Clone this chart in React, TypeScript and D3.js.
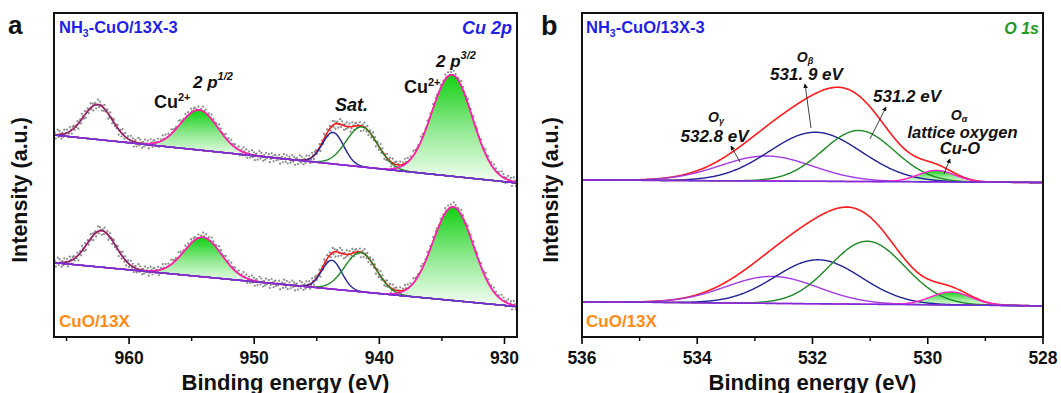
import React from "react";
import * as d3 from "d3";

const W = 1061;
const H = 393;

// ---------- Cu 2p (panel a) ----------
const cuDomain = [966, 929];
const cuMajorTicks = [960, 950, 940, 930];
const cuMinorTicks = [965, 955, 945, 935];
const cuPeakNames = ["Cu2+ shake-up 962", "Cu2+ 2p1/2", "Sat. A", "Sat. B", "Cu2+ 2p3/2"];
// NH3-CuO/13X-3
const cuTopCenters = [962.5, 954.4, 943.7, 941.4, 934.2];
const cuTopHeights = [35, 40, 31.5, 40, 101.5];
const cuTopSigmas = [1.15, 1.5, 0.85, 1.25, 1.62];
const cuTopBackground = [202, 154]; // at 966 eV and 929 eV
// CuO/13X
const cuBotCenters = [962.2, 954.1, 943.8, 941.5, 934.1];
const cuBotHeights = [36.6, 39.5, 28.7, 39.3, 93.6];
const cuBotSigmas = [1.15, 1.5, 0.8, 1.25, 1.62];
const cuBotBackground = [74.3, 30.4];

// ---------- O 1s (panel b) ----------
const oDomain = [536, 528];
const oMajorTicks = [536, 534, 532, 530, 528];
const oMinorTicks = [535, 533, 531, 529];
const oPeakNames = ["Oγ", "Oβ", "531.2", "Oα"];
const oTopCenters = [532.8, 531.95, 531.2, 529.85];
const oTopHeights = [25, 49, 51, 11.5];
const oTopSigmas = [0.8, 0.8, 0.62, 0.32];
const oTopBackground = [157, 154.5];
const oBotCenters = [532.7, 531.9, 531.05, 529.6];
const oBotHeights = [27, 44, 63, 13];
const oBotSigmas = [0.8, 0.75, 0.65, 0.35];
const oBotBackground = [35.3, 31.2];

// scatter of the raw data points around the fitted envelope (a.u.)
const dataNoise = [2.5, -3.6, 1.0, 4.3, -1.7, -4.8, 3.1, 0.4, -1.3, 4.1, -2.9, 1.5, -4.2, 0.7, 3.5, -2.4, 5.0, -0.6, -3.9, 2.1, 1.3, -4.9, 2.8, -2.0, 4.6, -0.8, -3.2, 2.7, 0.1, -4.3, 3.8, -2.7, 1.1, 4.8, -3.5, 1.8, -0.3, -5.2, 3.4, -1.4, 0.8, -2.2, 3.0];

const intensityDomain = [0, 324];

// styles
const cuColors = ["#7c2a86", "#ff1ecf", "#1e2296", "#1d8a23", "#ff1ecf"];
const cuFilled = [false, true, false, false, true];
const oColors = ["#a43be6", "#1e2296", "#1d8a23", "#ff1ecf"];
const oFilled = [false, false, false, true];

const FONT = "'Liberation Sans', Arial, Helvetica, sans-serif";
const BLUE = "#1f1fe6";
const ORANGE = "#ff8a14";
const OGREEN = "#1e9a1e";

type Spec = { centers: number[]; heights: number[]; sigmas: number[]; bg: number[] };

function Spectrum({ id, x, y, domain, spec, colors, filled, dots, step }: any) {
  const s: Spec = spec;
  const e0 = domain[0];
  const e1 = domain[1];
  const lo = Math.min(e0, e1);
  const hi = Math.max(e0, e1);
  const grid = d3.range(lo, hi + 1e-9, step);
  const bgAt = (e: number) => s.bg[0] + ((s.bg[1] - s.bg[0]) * (e - e0)) / (e1 - e0);
  const comp = (i: number, e: number) =>
    s.heights[i] * Math.exp(-((e - s.centers[i]) ** 2) / (2 * s.sigmas[i] ** 2));
  const env = (e: number) => bgAt(e) + s.centers.reduce((acc, _c, i) => acc + comp(i, e), 0);

  const line = d3.line<number>().x((e) => x(e));

  const fills = s.centers.map((c, i) => {
    if (!filled[i]) return null;
    const g = grid.filter((e) => Math.abs(e - c) < 4 * s.sigmas[i]);
    const area = d3
      .area<number>()
      .x((e) => x(e))
      .y0((e) => y(bgAt(e)))
      .y1((e) => y(bgAt(e) + comp(i, e)));
    return <path key={"f" + i} d={area(g) || ""} fill={`url(#${id}-grad)`} stroke="none" />;
  });

  const dotEnergies = dots ? d3.range(lo + 0.03, hi, 0.075) : [];

  return (
    <g>
      {dotEnergies.map((e, k) => (
        <circle
          key={"d" + k}
          cx={x(e)}
          cy={y(env(e) + dataNoise[k % dataNoise.length])}
          r={1.1}
          fill="#8a8a8a"
        />
      ))}
      {fills}
      <path d={line.y((e) => y(env(e)))(grid) || ""} fill="none" stroke="#ff1a1a" strokeWidth={1.6} />
      {s.centers.map((_c, i) => (
        <path
          key={"c" + i}
          d={line.y((e) => y(bgAt(e) + comp(i, e)))(grid) || ""}
          fill="none"
          stroke={colors[i]}
          strokeWidth={1.4}
        />
      ))}
      <path d={line.y((e) => y(bgAt(e)))(grid) || ""} fill="none" stroke="#7a2ed6" strokeWidth={1.6} />
    </g>
  );
}

function Axis({ x, y0, ticks, minor }: any) {
  return (
    <g>
      {ticks.map((t: number) => (
        <g key={"t" + t}>
          <line x1={x(t)} x2={x(t)} y1={y0} y2={y0 + 7} stroke="#000" strokeWidth={1.6} />
          <text x={x(t)} y={364} textAnchor="middle" fontFamily={FONT} fontWeight="bold" fontSize={17.5} fill="#111">
            {t}
          </text>
        </g>
      ))}
      {minor.map((t: number) => (
        <line key={"m" + t} x1={x(t)} x2={x(t)} y1={y0} y2={y0 + 4} stroke="#000" strokeWidth={1.4} />
      ))}
    </g>
  );
}

function SampleLabel({ x, y }: any) {
  return (
    <text x={x} y={y} fontFamily={FONT} fontWeight="bold" fontSize={16.5} fill={BLUE}>
      NH
      <tspan dy={4} fontSize={10.5}>
        3
      </tspan>
      <tspan dy={-4}>-CuO/13X-3</tspan>
    </text>
  );
}

export default function App() {
  const top = 13;
  const bottom = 337;
  const ax = { l: 54, r: 517 };
  const bx = { l: 582, r: 1043 };

  const xa = d3.scaleLinear().domain(cuDomain).range([ax.l, ax.r]);
  const xb = d3.scaleLinear().domain(oDomain).range([bx.l, bx.r]);
  const y = d3.scaleLinear().domain(intensityDomain).range([bottom, top]);

  const cuTop = { centers: cuTopCenters, heights: cuTopHeights, sigmas: cuTopSigmas, bg: cuTopBackground };
  const cuBot = { centers: cuBotCenters, heights: cuBotHeights, sigmas: cuBotSigmas, bg: cuBotBackground };
  const oTop = { centers: oTopCenters, heights: oTopHeights, sigmas: oTopSigmas, bg: oTopBackground };
  const oBot = { centers: oBotCenters, heights: oBotHeights, sigmas: oBotSigmas, bg: oBotBackground };

  const ann = { fontFamily: FONT, fontWeight: "bold" as const, fill: "#111" };
  const annI = { ...ann, fontStyle: "italic" as const };

  return (
    <svg
      width={W}
      height={H}
      style={{ position: "absolute", left: 0, top: 0, display: "block", background: "#fff" }}
      data-peaks={cuPeakNames.join("|") + "|" + oPeakNames.join("|")}
    >
      <defs>
        {["ga", "gb"].map((id) => (
          <linearGradient key={id} id={id + "-grad"} x1="0" y1="0" x2="0" y2="1">
            <stop offset="0" stopColor="#12d012" />
            <stop offset="0.5" stopColor="#8fe98f" />
            <stop offset="1" stopColor="#f6fff6" />
          </linearGradient>
        ))}
        <clipPath id="clipA">
          <rect x={ax.l} y={top} width={ax.r - ax.l} height={bottom - top} />
        </clipPath>
        <clipPath id="clipB">
          <rect x={bx.l} y={top} width={bx.r - bx.l} height={bottom - top} />
        </clipPath>
        <marker id="arr" viewBox="0 0 8 8" refX="7" refY="4" markerWidth="6" markerHeight="6" orient="auto">
          <path d="M0,0 L8,4 L0,8 z" fill="#111" />
        </marker>
      </defs>

      {/* ---------- panel a ---------- */}
      <g clipPath="url(#clipA)">
        <Spectrum id="ga" x={xa} y={y} domain={cuDomain} spec={cuTop} colors={cuColors} filled={cuFilled} dots step={0.05} />
        <Spectrum id="ga" x={xa} y={y} domain={cuDomain} spec={cuBot} colors={cuColors} filled={cuFilled} dots step={0.05} />
      </g>
      <rect x={ax.l} y={top} width={ax.r - ax.l} height={bottom - top} fill="none" stroke="#111" strokeWidth={2} />
      <Axis x={xa} y0={bottom} ticks={cuMajorTicks} minor={cuMinorTicks} />

      <text x={8} y={34} fontFamily={FONT} fontWeight="bold" fontSize={26} fill="#111">a</text>
      <SampleLabel x={59} y={33} />
      <text x={512} y={34} textAnchor="end" fontFamily={FONT} fontWeight="bold" fontStyle="italic" fontSize={18} fill={BLUE}>
        Cu 2p
      </text>
      <text x={59} y={327} fontFamily={FONT} fontWeight="bold" fontSize={17} fill={ORANGE}>CuO/13X</text>

      <text x={154} y={108} {...ann} fontSize={18}>
        Cu<tspan dy={-7} fontSize={11}>2+</tspan>
      </text>
      <text x={193} y={88} {...annI} fontSize={17}>
        2 p<tspan dy={-8} fontSize={11}>1/2</tspan>
      </text>
      <text x={335} y={111} {...annI} fontSize={18}>Sat.</text>
      <text x={404} y={93} {...ann} fontSize={18}>
        Cu<tspan dy={-7} fontSize={11}>2+</tspan>
      </text>
      <text x={436} y={67} {...annI} fontSize={17}>
        2 p<tspan dy={-8} fontSize={11}>3/2</tspan>
      </text>

      <text transform={`translate(26.5,190) rotate(-90)`} textAnchor="middle" fontFamily={FONT} fontWeight="bold" fontSize={21.5} fill="#111">
        Intensity (a.u.)
      </text>
      <text x={(ax.l + ax.r) / 2} y={390} textAnchor="middle" fontFamily={FONT} fontWeight="bold" fontSize={22} fill="#111">
        Binding energy (eV)
      </text>

      {/* ---------- panel b ---------- */}
      <g clipPath="url(#clipB)">
        <Spectrum id="gb" x={xb} y={y} domain={oDomain} spec={oTop} colors={oColors} filled={oFilled} dots={false} step={0.01} />
        <Spectrum id="gb" x={xb} y={y} domain={oDomain} spec={oBot} colors={oColors} filled={oFilled} dots={false} step={0.01} />
      </g>
      <rect x={bx.l} y={top} width={bx.r - bx.l} height={bottom - top} fill="none" stroke="#111" strokeWidth={2} />
      <Axis x={xb} y0={bottom} ticks={oMajorTicks} minor={oMinorTicks} />

      <text x={541} y={35} fontFamily={FONT} fontWeight="bold" fontSize={27} fill="#111">b</text>
      <SampleLabel x={586} y={33} />
      <text x={1039} y={34} textAnchor="end" fontFamily={FONT} fontWeight="bold" fontStyle="italic" fontSize={16} fill={OGREEN}>
        O 1s
      </text>
      <text x={586} y={327} fontFamily={FONT} fontWeight="bold" fontSize={17} fill={ORANGE}>CuO/13X</text>

      {/* annotations */}
      <text x={716} y={122} textAnchor="middle" {...annI} fontSize={14}>
        O<tspan dy={2} fontSize={9}>γ</tspan>
      </text>
      <text x={714.5} y={142} textAnchor="middle" {...annI} fontSize={17}>532.8 eV</text>
      <line x1={740} y1={162} x2={731} y2={146} stroke="#111" strokeWidth={0.8} markerEnd="url(#arr)" />

      <text x={805} y={62} textAnchor="middle" {...annI} fontSize={14}>
        O<tspan dy={2} fontSize={9}>β</tspan>
      </text>
      <text x={806.5} y={80} textAnchor="middle" {...annI} fontSize={17}>531. 9 eV</text>
      <line x1={811} y1={128} x2={805} y2={84} stroke="#111" strokeWidth={0.8} markerEnd="url(#arr)" />

      <text x={907} y={101.5} textAnchor="middle" {...annI} fontSize={17}>531.2 eV</text>
      <line x1={870} y1={139} x2={886} y2={107} stroke="#111" strokeWidth={0.8} markerEnd="url(#arr)" />

      <text x={959} y={120} textAnchor="middle" {...annI} fontSize={14}>
        O<tspan dy={2} fontSize={9}>α</tspan>
      </text>
      <text x={962.5} y={137.5} textAnchor="middle" {...annI} fontSize={16.5}>lattice oxygen</text>
      <text x={960} y={154} textAnchor="middle" {...annI} fontSize={16.5}>Cu-O</text>
      <line x1={944} y1={174} x2={950} y2={159} stroke="#111" strokeWidth={0.8} markerEnd="url(#arr)" />

      <text transform={`translate(558,190) rotate(-90)`} textAnchor="middle" fontFamily={FONT} fontWeight="bold" fontSize={21.5} fill="#111">
        Intensity (a.u.)
      </text>
      <text x={(bx.l + bx.r) / 2} y={390} textAnchor="middle" fontFamily={FONT} fontWeight="bold" fontSize={22} fill="#111">
        Binding energy (eV)
      </text>
    </svg>
  );
}
